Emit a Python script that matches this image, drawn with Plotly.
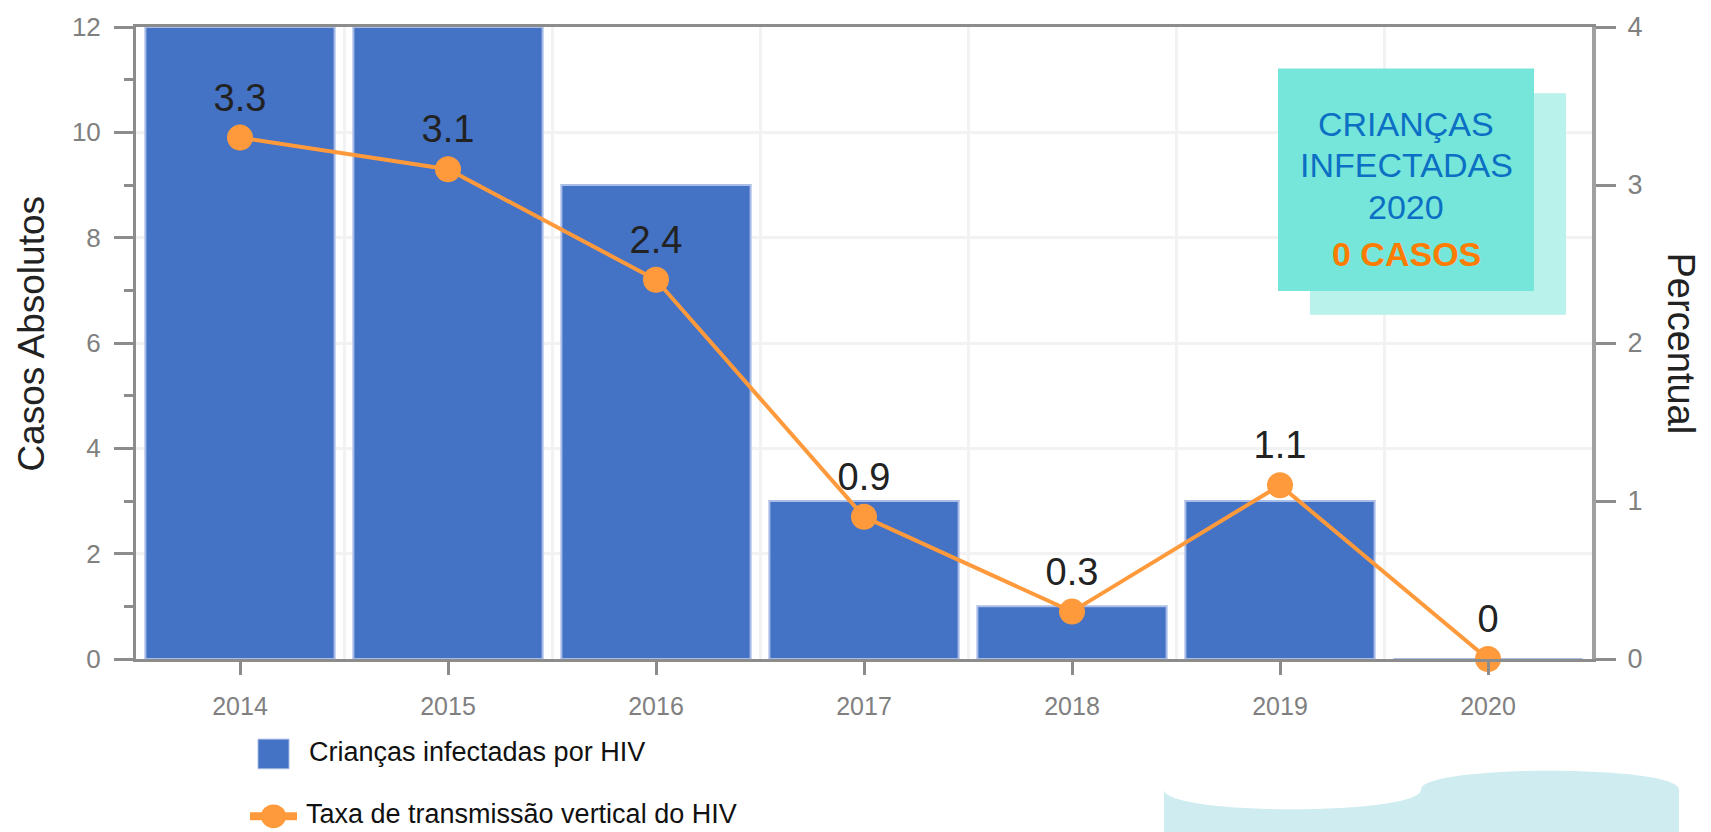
import plotly.graph_objects as go

# Data
years = [2014, 2015, 2016, 2017, 2018, 2019, 2020]
infected_children = [12, 12, 9, 3, 1, 3, 0]          # left axis, absolute cases
vertical_rate = [3.3, 3.1, 2.4, 0.9, 0.3, 1.1, 0]    # right axis, percent

BAR_NAME = "Crianças infectadas por HIV"
LINE_NAME = "Taxa de transmissão vertical do HIV"
LEFT_TITLE = "Casos Absolutos"
RIGHT_TITLE = "Percentual"
BOX_LINES = ["CRIANÇAS", "INFECTADAS", "2020"]
BOX_HIGHLIGHT = "0 CASOS"

FONT = "Arial, 'Liberation Sans', sans-serif"
BLUE = "#4472C4"
ORANGE = "#FF9A3C"
AXIS_GREY = "#8c8c8c"
TICK_GREY = "#808080"
GRID = "#f2f2f2"

W, H = 1711, 832
PLOT_L, PLOT_R, PLOT_T, PLOT_B = 136, 1592, 20, 659


def px(x):
    """pixel x -> paper x"""
    return (x - PLOT_L) / (PLOT_R - PLOT_L)


def py(y):
    """pixel y -> paper y"""
    return (PLOT_B - y) / (PLOT_B - PLOT_T)


fig = go.Figure()

fig.add_trace(go.Bar(
    x=years, y=infected_children, name=BAR_NAME,
    marker=dict(color=BLUE, line=dict(color="#A9BDE6", width=2)),
    showlegend=False,
))

fig.add_trace(go.Scatter(
    x=years, y=vertical_rate, name=LINE_NAME, yaxis="y2",
    mode="lines+markers+text",
    line=dict(color=ORANGE, width=4),
    marker=dict(color=ORANGE, size=26),
    text=[f"{v:g}" for v in vertical_rate],
    textposition="top center",
    textfont=dict(size=38, color="#222222", family=FONT),
    cliponaxis=False,
    showlegend=False,
))

shapes = []
annotations = []

# highlighted box (shadow + front)
shapes.append(dict(type="rect", xref="paper", yref="paper",
                   x0=px(1310), x1=px(1566), y0=py(311), y1=py(87),
                   fillcolor="#B9F2EA", line=dict(width=0), layer="above"))
shapes.append(dict(type="rect", xref="paper", yref="paper",
                   x0=px(1278), x1=px(1534), y0=py(287), y1=py(62),
                   fillcolor="#76E6DA", line=dict(width=0), layer="above"))
for txt, yc in zip(BOX_LINES, [118, 160, 202]):
    annotations.append(dict(text=txt, xref="paper", yref="paper",
                            x=px(1406), y=py(yc), xanchor="center", yanchor="middle",
                            showarrow=False, font=dict(size=34, color="#0B6FC4", family=FONT)))
annotations.append(dict(text=f"<b>{BOX_HIGHLIGHT}</b>", xref="paper", yref="paper",
                        x=px(1406), y=py(250), xanchor="center", yanchor="middle",
                        showarrow=False, font=dict(size=34, color="#FF7C00", family=FONT)))

# wavy banner at bottom right
x0, xm, x1 = 1164, 1421, 1679
yc, ybot = 791, 860
dip, bump = 20 * 4 / 3, 19 * 4 / 3
wave = (f"M {px(x0)},{py(ybot)} L {px(x0)},{py(yc)} "
        f"C {px(x0)},{py(yc + dip)} {px(xm)},{py(yc + dip)} {px(xm)},{py(yc)} "
        f"C {px(xm)},{py(yc - bump)} {px(x1)},{py(yc - bump)} {px(x1)},{py(yc)} "
        f"L {px(x1)},{py(ybot)} Z")
shapes.append(dict(type="path", xref="paper", yref="paper", path=wave,
                   fillcolor="#CFEDF0", line=dict(width=0), layer="above"))

# hand-made legend
shapes.append(dict(type="rect", xref="paper", yref="paper",
                   x0=px(258), x1=px(289), y0=py(770), y1=py(740),
                   fillcolor=BLUE, line=dict(color="#A9BDE6", width=1)))
annotations.append(dict(text=BAR_NAME, xref="paper", yref="paper",
                        x=px(307), y=py(753), xanchor="left", yanchor="middle",
                        showarrow=False, font=dict(size=27, color="#111111", family=FONT)))
shapes.append(dict(type="line", xref="paper", yref="paper",
                   x0=px(250), x1=px(297), y0=py(818), y1=py(818),
                   line=dict(color=ORANGE, width=8)))
shapes.append(dict(type="circle", xref="paper", yref="paper",
                   x0=px(261), x1=px(286), y0=py(830), y1=py(806),
                   fillcolor=ORANGE, line=dict(width=0)))
annotations.append(dict(text=LINE_NAME, xref="paper", yref="paper",
                        x=px(304), y=py(816), xanchor="left", yanchor="middle",
                        showarrow=False, font=dict(size=27, color="#111111", family=FONT)))

# axis titles
annotations.append(dict(text=LEFT_TITLE, xref="paper", yref="paper",
                        x=px(32), y=py(330), textangle=-90,
                        xanchor="center", yanchor="middle", showarrow=False,
                        font=dict(size=37, color="#222222", family=FONT)))
annotations.append(dict(text=RIGHT_TITLE, xref="paper", yref="paper",
                        x=px(1681), y=py(340), textangle=90,
                        xanchor="center", yanchor="middle", showarrow=False,
                        font=dict(size=38, color="#222222", family=FONT)))

fig.update_layout(
    width=W, height=H,
    margin=dict(l=PLOT_L, r=W - PLOT_R, t=PLOT_T, b=H - PLOT_B, pad=0),
    paper_bgcolor="white", plot_bgcolor="white",
    font=dict(family=FONT),
    bargap=0.09,
    showlegend=False,
    shapes=shapes,
    annotations=annotations,
    xaxis=dict(
        range=[years[0] - 0.5, years[-1] + 0.5],
        tickvals=years, ticktext=[str(y) for y in years],
        ticks="outside", ticklen=13, tickwidth=3, tickcolor=AXIS_GREY,
        showline=True, linecolor=AXIS_GREY, linewidth=3, mirror=True,
        showgrid=False, zeroline=False,
        tickfont=dict(size=25, color=TICK_GREY),
        ticklabelstandoff=10,
        minor=dict(tickvals=[y + 0.5 for y in years[:-1]], showgrid=True,
                   gridcolor=GRID, gridwidth=3, ticks=""),
    ),
    yaxis=dict(
        range=[0, 12], dtick=2,
        ticks="outside", ticklen=19, tickwidth=3, tickcolor=AXIS_GREY,
        showline=True, linecolor=AXIS_GREY, linewidth=3,
        showgrid=True, gridcolor=GRID, gridwidth=3, zeroline=False,
        tickfont=dict(size=26, color=TICK_GREY),
        ticklabelstandoff=8,
        minor=dict(dtick=1, ticks="outside", ticklen=9, tickwidth=3,
                   tickcolor=AXIS_GREY, showgrid=False),
    ),
    yaxis2=dict(
        overlaying="y", side="right",
        range=[0, 4], dtick=1,
        ticks="outside", ticklen=20, tickwidth=3, tickcolor=AXIS_GREY,
        showline=True, linecolor="#a0a0a0", linewidth=4,
        showgrid=False, zeroline=False,
        tickfont=dict(size=27, color=TICK_GREY),
        ticklabelstandoff=6,
    ),
)

fig.write_html(
    "out.html",
    config={"displayModeBar": False},
    post_script="document.body.style.margin='0';document.body.style.overflow='hidden';",
)
